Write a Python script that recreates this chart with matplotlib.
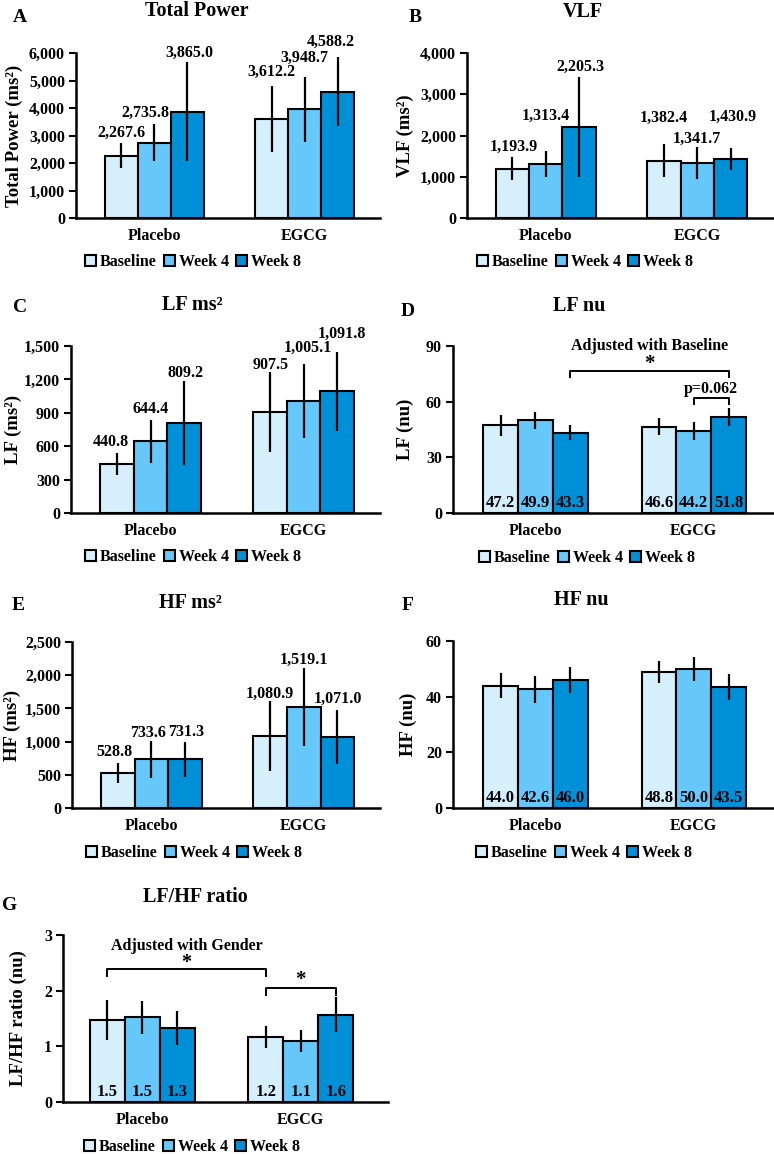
import matplotlib
matplotlib.use("Agg")
import matplotlib.pyplot as plt
from matplotlib.ticker import FuncFormatter, MultipleLocator
import numpy as np

# ---------------- data ----------------
groups = ["Placebo", "EGCG"]
timepoints = ["Baseline", "Week 4", "Week 8"]

# Total Power (ms^2)
tp_placebo = [2267.6, 2735.8, 3865.0]
tp_egcg = [3612.2, 3948.7, 4588.2]
tp_placebo_se = [455, 665, 1800]
tp_egcg_se = [1195, 1185, 1260]

# VLF (ms^2)
vlf_placebo = [1193.9, 1313.4, 2205.3]
vlf_egcg = [1382.4, 1341.7, 1430.9]
vlf_placebo_se = [275, 310, 1205]
vlf_egcg_se = [400, 385, 275]

# LF (ms^2)
lf_placebo = [440.8, 644.4, 809.2]
lf_egcg = [907.5, 1005.1, 1091.8]
lf_placebo_se = [95, 195, 380]
lf_egcg_se = [360, 330, 358]

# LF (nu)
lfnu_placebo = [47.2, 49.9, 43.3]
lfnu_egcg = [46.6, 44.2, 51.8]
lfnu_placebo_se = [5.5, 4.5, 4.0]
lfnu_egcg_se = [4.5, 4.7, 5.0]

# HF (ms^2)
hf_placebo = [528.8, 733.6, 731.3]
hf_egcg = [1080.9, 1519.1, 1071.0]
hf_placebo_se = [150, 275, 258]
hf_egcg_se = [525, 588, 408]

# HF (nu)
hfnu_placebo = [44.0, 42.6, 46.0]
hfnu_egcg = [48.8, 50.0, 43.5]
hfnu_placebo_se = [4.5, 4.7, 4.8]
hfnu_egcg_se = [4.0, 4.3, 4.8]

# LF/HF ratio
ratio_placebo = [1.48, 1.52, 1.33]
ratio_egcg = [1.17, 1.09, 1.57]
ratio_placebo_se = [0.36, 0.30, 0.31]
ratio_egcg_se = [0.20, 0.20, 0.32]

# ---------------- style ----------------
plt.rcParams["font.family"] = ["Liberation Serif", "DejaVu Serif"]
plt.rcParams["font.weight"] = "bold"
plt.rcParams["axes.labelweight"] = "bold"

colors = ["#D6EFFD", "#66C8FA", "#0090D8"]
W, H = 774, 1154
fig = plt.figure(figsize=(W / 100, H / 100), dpi=100)

def add_ax(l, r, t, b):
    return fig.add_axes([l / W, 1 - b / H, (r - l) / W, (b - t) / H])

def thousands(v, pos):
    return f"{v:,.0f}"

bw = 0.22
offsets = [-bw, 0.0, bw]

def draw_panel(rect, placebo, egcg, p_se, e_se, ymax, step, title, ylabel,
               letter, title_xy, letter_xy, legend_xy, ylabel_x, mode,
               dx=None, dy=None, xlim=(-0.52, 1.5)):
    ax = add_ax(*rect)
    for i in range(3):
        xs = [0 + offsets[i], 1 + offsets[i]]
        ys = [placebo[i], egcg[i]]
        es = [p_se[i], e_se[i]]
        ax.bar(xs, ys, width=bw, color=colors[i], edgecolor="black",
               linewidth=1.5, label=timepoints[i], zorder=2)
        ax.errorbar(xs, ys, yerr=es, fmt="none", ecolor="black",
                    elinewidth=1.6, capsize=0, zorder=3)
        for g in range(2):
            if mode == "above":
                k = g * 3 + i
                ax.annotate(f"{ys[g]:,.1f}", xy=(xs[g], ys[g] + es[g]),
                            xytext=(dx[k], dy[k]), textcoords="offset pixels",
                            ha="center", va="center", fontsize=11.5,
                            fontweight="bold", zorder=4)
            else:
                ax.annotate(f"{ys[g]:.1f}", xy=(xs[g], 0), xytext=(0, 10),
                            textcoords="offset pixels", ha="center",
                            va="center", fontsize=12, fontweight="bold",
                            zorder=4)
    ax.set_xlim(*xlim)
    ax.set_ylim(0, ymax)
    ax.yaxis.set_major_locator(MultipleLocator(step))
    if ymax >= 1000:
        ax.yaxis.set_major_formatter(FuncFormatter(thousands))
    ax.set_xticks([0, 1])
    ax.set_xticklabels(groups, fontsize=11.5, fontweight="bold")
    ax.tick_params(axis="x", length=0, pad=7)
    ax.tick_params(axis="y", direction="out", length=5, width=1.5,
                   labelsize=11.5, pad=3)
    for s in ["top", "right"]:
        ax.spines[s].set_visible(False)
    for s in ["left", "bottom"]:
        ax.spines[s].set_linewidth(1.8)
    ax.set_ylabel(ylabel, fontsize=13.5, fontweight="bold", va="center")
    l, r = rect[0], rect[1]
    ax.yaxis.set_label_coords((ylabel_x - l) / (r - l), 0.5)
    fig.text(title_xy[0] / W, 1 - title_xy[1] / H, title, ha="center",
             va="center", fontsize=14.5, fontweight="bold")
    fig.text(letter_xy[0] / W, 1 - letter_xy[1] / H, letter, ha="center",
             va="center", fontsize=14, fontweight="bold")
    ax.legend(loc="center", bbox_to_anchor=(legend_xy[0] / W, 1 - legend_xy[1] / H),
              bbox_transform=fig.transFigure, ncol=3, frameon=False,
              handlelength=0.7, handleheight=0.7, handletextpad=0.25,
              columnspacing=0.45, borderaxespad=0, borderpad=0,
              prop={"family": "Liberation Serif", "weight": "bold", "size": 11.5})
    return ax

axA = draw_panel((76, 380, 53, 218), tp_placebo, tp_egcg, tp_placebo_se, tp_egcg_se,
                 6000, 1000, "Total Power", "Total Power (ms²)", "A",
                 (197, 11), (20, 18), (193, 262), 14, "above",
                 dx=[0, -9, 2, 0, 0, -7], dy=[10, 12, 9, 14, 19, 15])
axB = draw_panel((467, 773, 53, 218), vlf_placebo, vlf_egcg, vlf_placebo_se, vlf_egcg_se,
                 4000, 1000, "VLF", "VLF (ms²)", "B",
                 (583, 12), (415, 18), (585, 262), 405, "above",
                 dx=[1, 0, 1, 0, 0, 2], dy=[11, 35, 10, 27, 8, 31])
axC = draw_panel((71, 380, 346, 513), lf_placebo, lf_egcg, lf_placebo_se, lf_egcg_se,
                 1500, 300, "LF ms²", "LF (ms²)", "C",
                 (192, 305), (20, 307), (193, 557), 13, "above",
                 dx=[-6, 0, 1, 1, 4, 5], dy=[11, 11, 8, 7, 16, 18])
axD = draw_panel((453, 773, 346, 513), lfnu_placebo, lfnu_egcg, lfnu_placebo_se, lfnu_egcg_se,
                 90, 30, "LF nu", "LF (nu)", "D",
                 (579, 306), (408, 312), (587, 558), 405, "inside")
axE = draw_panel((72, 380, 642, 808), hf_placebo, hf_egcg, hf_placebo_se, hf_egcg_se,
                 2500, 500, "HF ms²", "HF (ms²)", "E",
                 (190, 603), (18, 605), (194, 853), 12, "above",
                 dx=[-3, -3, 1, 0, 0, 1], dy=[11, 8, 10, 7, 8, 11])
axF = draw_panel((453, 773, 641, 808), hfnu_placebo, hfnu_egcg, hfnu_placebo_se, hfnu_egcg_se,
                 60, 20, "HF nu", "HF (nu)", "F",
                 (581, 600), (408, 605), (584, 853), 408, "inside")
axG = draw_panel((63, 388, 935, 1102), ratio_placebo, ratio_egcg, ratio_placebo_se, ratio_egcg_se,
                 3, 1, "LF/HF ratio", "LF/HF ratio (nu)", "G",
                 (195, 897), (10, 905), (192, 1147), 18, "inside", xlim=(-0.5, 1.55))

def bracket(ax, x1, x2, y, ydrop):
    ax.plot([x1, x1, x2, x2], [y - ydrop, y, y, y - ydrop], color="black",
            lw=1.4, clip_on=False, zorder=5)

# Panel D annotations
bracket(axD, offsets[2], 1 + offsets[2], 76.5, 3.4)
axD.text((offsets[2] + 1 + offsets[2]) / 2, 80.5, "*", ha="center", va="center",
         fontsize=15, fontweight="bold")
axD.text((offsets[2] + 1 + offsets[2]) / 2, 90, "Adjusted with Baseline",
         ha="center", va="center", fontsize=11.5, fontweight="bold")
bracket(axD, 1 + offsets[1], 1 + offsets[2], 62, 3.5)
axD.text(1 + offsets[2] / 2, 66.6, "p=0.062", ha="center", va="center",
         fontsize=11.5, fontweight="bold")

# Panel G annotations
bracket(axG, offsets[0], 1 + offsets[0], 2.385, 0.115)
axG.text((offsets[0] + 1 + offsets[0]) / 2, 2.49, "*", ha="center", va="center",
         fontsize=14.5, fontweight="bold")
axG.text((offsets[0] + 1 + offsets[0]) / 2, 2.81, "Adjusted with Gender",
         ha="center", va="center", fontsize=11.5, fontweight="bold")
bracket(axG, 1 + offsets[0], 1 + offsets[2], 2.044, 0.12)
axG.text(1.0, 2.19, "*", ha="center", va="center", fontsize=15, fontweight="bold")

fig.savefig("out.png", dpi=100)
